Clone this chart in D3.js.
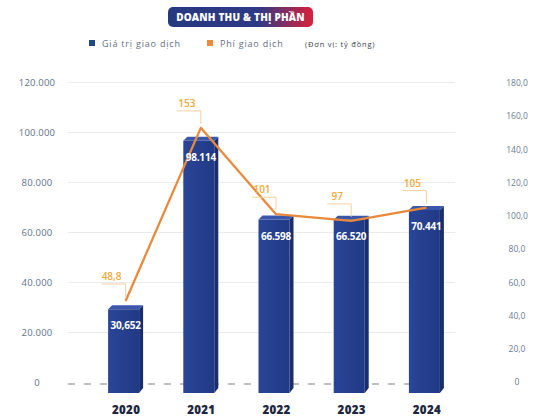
<!DOCTYPE html>
<html>
<head>
<meta charset="utf-8">
<script src="https://cdn.jsdelivr.net/npm/d3@7"></script>
<style>
  body { margin: 0; background: #fff; }
  svg { display: block; font-family: "Open Sans", "Noto Sans", sans-serif; }
</style>
</head>
<body>
<svg id="chart" width="533" height="416"></svg>
<script>
// Years and the two series (values in tỷ đồng)
const years = ["2020", "2021", "2022", "2023", "2024"];
const tradeValue = [30652, 98114, 66598, 66520, 70441];
const tradeValueLabels = ["30,652", "98.114", "66.598", "66.520", "70.441"];
const feeValue = [48.8, 153, 101, 97, 105];
const feeLabels = ["48,8", "153", "101", "97", "105"];

// Axis ticks
const leftTicks = [0, 20000, 40000, 60000, 80000, 100000, 120000];
const leftTickLabels = ["0", "20.000", "40.000", "60.000", "80.000", "100.000", "120.000"];
const rightTicks = [0, 20, 40, 60, 80, 100, 120, 140, 160, 180];
const rightTickLabels = ["0", "20,0", "40,0", "60,0", "80,0", "100,0", "120,0", "140,0", "160,0", "180,0"];

const titleText = "DOANH THU & THỊ PHẦN";
const legendItems = ["Giá trị giao dịch", "Phí giao dịch"];
const unitText = "(Đơn vị: tỷ đồng)";

const svg = d3.select("#chart");
const defs = svg.append("defs");

const plot = { left: 68, right: 455, top: 82, bottom: 382 };

const x = d3.scalePoint().domain(years).range([88, 464]).padding(0.5);
const yLeft = d3.scaleLinear().domain([0, 120000]).range([plot.bottom, plot.top]);
const yRight = d3.scaleLinear().domain([0, 180]).range([plot.bottom, 83]);

// ---- title pill ----
const tg = defs.append("linearGradient").attr("id", "titleGrad");
tg.append("stop").attr("offset", "0%").attr("stop-color", "#26397f");
tg.append("stop").attr("offset", "62%").attr("stop-color", "#2f3a86");
tg.append("stop").attr("offset", "100%").attr("stop-color", "#d8203b");
svg.append("rect")
  .attr("x", 168).attr("y", 7).attr("width", 145).attr("height", 20).attr("rx", 5)
  .attr("fill", "url(#titleGrad)");
svg.append("text")
  .attr("x", 240.5).attr("y", 21).attr("text-anchor", "middle")
  .attr("fill", "#fff").attr("font-size", 10).attr("font-weight", 800)
  .attr("letter-spacing", 0.2)
  .text(titleText);

// ---- legend ----
const legendColors = ["#1e4b87", "#ef8a3d"];
const legendX = [89, 207];
legendItems.forEach((t, i) => {
  svg.append("rect").attr("x", legendX[i]).attr("y", 40).attr("width", 6).attr("height", 6)
    .attr("fill", legendColors[i]);
  svg.append("text").attr("x", legendX[i] + 13).attr("y", 46.5)
    .attr("font-size", 9).attr("letter-spacing", 0.8)
    .attr("fill", "#5f6f84").text(t);
});
svg.append("text").attr("x", 305).attr("y", 46.5)
  .attr("font-size", 7.5).attr("letter-spacing", 0.8)
  .attr("fill", "#3a3f48").text(unitText);

// ---- gridlines ----
const grid = svg.append("g").attr("transform", `translate(${plot.left},0)`)
  .call(d3.axisRight(yLeft).tickValues(leftTicks.filter(d => d > 0))
    .tickSize(plot.right - plot.left).tickFormat(""));
grid.select(".domain").remove();
grid.selectAll("line").attr("stroke", "#e9ebee").attr("stroke-width", 1.2);

// dashed zero line
svg.append("line")
  .attr("x1", plot.left).attr("x2", plot.right - 3)
  .attr("y1", yLeft(0) + 2).attr("y2", yLeft(0) + 2)
  .attr("stroke", "#a3acb9").attr("stroke-width", 1.4).attr("stroke-dasharray", "7,9");

// ---- left axis labels ----
const axL = svg.append("g").attr("transform", "translate(37,0)")
  .call(d3.axisLeft(yLeft).tickValues(leftTicks).tickSize(0).tickPadding(0)
    .tickFormat((d, i) => leftTickLabels[i]));
axL.select(".domain").remove();
axL.selectAll("text").attr("text-anchor", "middle").attr("font-size", 9.5)
  .attr("letter-spacing", 0.2)
  .attr("fill", "#5e7189").attr("font-family", "'Open Sans', sans-serif");

// ---- right axis labels ----
const axR = svg.append("g").attr("transform", "translate(517,0)")
  .call(d3.axisRight(yRight).tickValues(rightTicks).tickSize(0).tickPadding(0)
    .tickFormat((d, i) => rightTickLabels[i]));
axR.select(".domain").remove();
axR.selectAll("text").attr("text-anchor", "middle").attr("font-size", 8.5)
  .attr("fill", "#6b7d93").attr("font-family", "'Open Sans', sans-serif");

// ---- 3D bars ----
const fg = defs.append("linearGradient").attr("id", "barFront");
fg.append("stop").attr("offset", "0%").attr("stop-color", "#2a4597");
fg.append("stop").attr("offset", "100%").attr("stop-color", "#213a86");

const barW = 35, side = 4, plinth = 11;
const bars = svg.append("g").selectAll("g").data(years).join("g");
bars.each(function (yr, i) {
  const g = d3.select(this);
  const cx = x(yr);
  const x0 = cx - barW / 2, x1 = cx + barW / 2;
  const top = yLeft(tradeValue[i]);
  const bottom = yLeft(0) + plinth;
  // front face
  g.append("path")
    .attr("d", `M${x0},${top + 4}H${x1 - side}V${bottom}H${x0}Z`)
    .attr("fill", "url(#barFront)");
  // right side
  g.append("path")
    .attr("d", `M${x1 - side},${top + 4}L${x1},${top}V${bottom - 5}L${x1 - side},${bottom}Z`)
    .attr("fill", "#1a2d6e");
  // top face
  g.append("path")
    .attr("d", `M${x0},${top + 4}L${x0 + 4},${top}H${x1}L${x1 - side},${top + 4}Z`)
    .attr("fill", "#3a57ab");
});

// ---- fee line ----
const line = d3.line().x((d, i) => x(years[i])).y(d => yRight(d));
svg.append("path").datum(feeValue)
  .attr("d", line).attr("fill", "none")
  .attr("stroke", "#e9893c").attr("stroke-width", 2.3).attr("stroke-linejoin", "round");

// ---- bar value labels ----
svg.append("g").selectAll("text").data(years).join("text")
  .attr("x", d => x(d))
  .attr("y", (d, i) => yLeft(tradeValue[i]) + 24)
  .attr("text-anchor", "middle")
  .attr("fill", "#fff").attr("font-size", 10).attr("font-weight", 700)
  .attr("letter-spacing", -0.2)
  .text((d, i) => tradeValueLabels[i]);

// ---- fee labels with leader brackets ----
const feeG = svg.append("g");
years.forEach((yr, i) => {
  const px = x(yr), py = yRight(feeValue[i]);
  feeG.append("path")
    .attr("d", `M${px - 24},${py - 17}H${px}V${py - 4}`)
    .attr("fill", "none").attr("stroke", "#f4cc96").attr("stroke-width", 0.9);
  feeG.append("text")
    .attr("x", px - 14).attr("y", py - 21)
    .attr("text-anchor", "middle")
    .attr("fill", "#f0a93b").attr("font-size", 10).attr("font-weight", 600)
    .text(feeLabels[i]);
});

// ---- year labels ----
const axX = svg.append("g").attr("transform", "translate(0,406)")
  .call(d3.axisBottom(x).tickSize(0).tickPadding(0));
axX.select(".domain").remove();
axX.selectAll("text").attr("font-size", 11.5).attr("font-weight", 800)
  .attr("letter-spacing", 0.3)
  .attr("fill", "#1c2640").attr("font-family", "'Open Sans', sans-serif");
</script>
</body>
</html>
